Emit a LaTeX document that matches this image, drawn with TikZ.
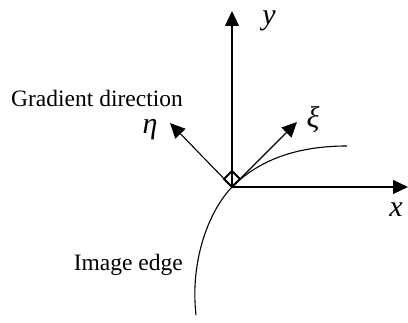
\documentclass[tikz,border=0pt]{standalone}
\usepackage{fontspec}
\setmainfont{Liberation Serif}
\usetikzlibrary{arrows.meta}
\begin{document}
\begin{tikzpicture}[x=1pt,y=-1pt,
  axis/.style={line width=1.1pt,-{Triangle[length=15pt,width=14pt]}},
  curve/.style={line width=1.1pt},
  lbl/.style={inner sep=0pt,font=\fontsize{23.5}{28}\selectfont},
  sym/.style={inner sep=0pt,font=\fontsize{30}{34}\selectfont\itshape}]
\useasboundingbox (0,0) rectangle (408,323);
\coordinate (O) at (232,187);
\coordinate (Y) at (232,11);
\coordinate (X) at (408,187);
\coordinate (E) at (170,123);
\coordinate (K) at (297,122);
\coordinate (C1) at (347,146);
\coordinate (C2) at (196,315);
% axes and directions
\draw[axis] (O) -- (Y);
\draw[axis] (O) -- (X);
\draw[axis] (O) -- (E);
\draw[axis] (O) -- (K);
% right-angle mark
\draw[line width=2pt] (O) -- ++(-8,-8) -- ++(8,-8) -- ++(8,8) -- cycle;
% image edge curve
\draw[curve] (C2) .. controls (190,262) and (208,212) .. (O)
  .. controls (255,164) and (290,146) .. (C1);
% labels
\node[sym] (ly) at (269,21) {y};
\node[sym] (lx) at (396,210) {x};
\node[sym] (le) at (150,130) {η};
\node[sym] (lk) at (313,120) {ξ};
\node[lbl,anchor=base east] (gd) at (183,107) {Gradient direction};
\node[lbl,anchor=base east] (ie) at (183,271) {Image edge};
\end{tikzpicture}
\end{document}
